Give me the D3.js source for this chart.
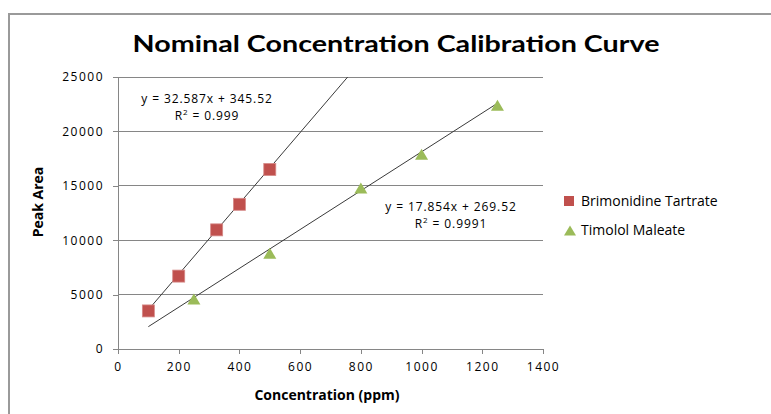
<!DOCTYPE html>
<html lang="en">
<head>
    <meta charset="utf-8">
    <title>Nominal Concentration Calibration Curve</title>
    <style>
        body {
            margin: 0;
            background: white;
        }

        svg {
            display: block;
        }

        .axis path,
        .axis line {
            fill: none;
            stroke: #868686;
            shape-rendering: crispEdges;
        }

        .axis text {
            font-family: "Open Sans", sans-serif;
            font-size: 12px;
            letter-spacing: 1.5px;
            fill: #000;
        }
    </style>
</head>
<body>
    <script src="https://d3js.org/d3.v7.min.js"></script>
    <div id="chart"></div>
    <script type="text/javascript">
        // data
        var brimConc = [100, 200, 325, 400, 500];
        var brimArea = [3500, 6700, 10950, 13300, 16500];
        var timoConc = [250, 500, 800, 1000, 1250];
        var timoArea = [4600, 8800, 14800, 17900, 22400];

        // trendlines as printed on the chart
        var brimFit = { slope: 32.587, icept: 345.52, from: 100, to: 1250 };
        var timoFit = { slope: 17.854, icept: 269.52, from: 100, to: 1250 };

        var xTicks = [0, 200, 400, 600, 800, 1000, 1200, 1400];
        var yTicks = [0, 5000, 10000, 15000, 20000, 25000];

        var width = 771;
        var height = 414;
        var plotLeft = 118, plotRight = 543, plotTop = 77, plotBottom = 349;

        var svg = d3.select("#chart").append("svg")
            .attr("width", width)
            .attr("height", height);

        // outer chart border (runs off the right / bottom of the picture)
        svg.append("rect")
            .attr("x", 9)
            .attr("y", 14)
            .attr("width", 800)
            .attr("height", 440)
            .attr("fill", "white")
            .attr("stroke", "#9a9a9a")
            .attr("stroke-width", 2);

        var xScale = d3.scaleLinear().domain([0, 1400]).range([plotLeft, plotRight]);
        var yScale = d3.scaleLinear().domain([0, 25000]).range([plotBottom, plotTop]);

        // gridlines
        svg.append("g")
            .selectAll("line")
            .data(yTicks.slice(1))
            .enter()
            .append("line")
            .attr("x1", plotLeft)
            .attr("x2", plotRight)
            .attr("y1", function(d) { return yScale(d); })
            .attr("y2", function(d) { return yScale(d); })
            .attr("stroke", "#868686")
            .attr("shape-rendering", "crispEdges");

        var xAxis = d3.axisBottom(xScale).tickValues(xTicks).tickFormat(d3.format("d"))
            .tickSize(5).tickSizeOuter(0).tickPadding(8);
        var yAxis = d3.axisLeft(yScale).tickValues(yTicks).tickFormat(d3.format("d"))
            .tickSize(5).tickSizeOuter(0).tickPadding(9);

        svg.append("g")
            .attr("class", "axis")
            .attr("transform", "translate(0," + plotBottom + ")")
            .call(xAxis);

        svg.append("g")
            .attr("class", "axis")
            .attr("transform", "translate(" + plotLeft + ",0)")
            .call(yAxis);

        // trendlines, clipped to plot
        svg.append("clipPath").attr("id", "plotClip")
            .append("rect")
            .attr("x", plotLeft).attr("y", plotTop)
            .attr("width", plotRight - plotLeft).attr("height", plotBottom - plotTop);

        function draw_fit(fit) {
            svg.append("line")
                .attr("clip-path", "url(#plotClip)")
                .attr("x1", xScale(fit.from))
                .attr("y1", yScale(fit.slope * fit.from + fit.icept))
                .attr("x2", xScale(fit.to))
                .attr("y2", yScale(fit.slope * fit.to + fit.icept))
                .attr("stroke", "#3a3a3a")
                .attr("stroke-width", 1);
        }
        draw_fit(brimFit);
        draw_fit(timoFit);

        // markers
        var sq = 12;
        svg.append("g")
            .selectAll("rect")
            .data(d3.range(brimConc.length))
            .enter()
            .append("rect")
            .attr("x", function(i) { return xScale(brimConc[i]) - sq / 2; })
            .attr("y", function(i) { return yScale(brimArea[i]) - sq / 2; })
            .attr("width", sq)
            .attr("height", sq)
            .attr("fill", "#c0504d")
            .attr("stroke", "#d68a88")
            .attr("stroke-width", 0.8);

        function triPath(cx, cy, w, h) {
            return "M" + (cx - w / 2) + "," + (cy + h / 2) +
                "L" + (cx + w / 2) + "," + (cy + h / 2) +
                "L" + cx + "," + (cy - h / 2) + "Z";
        }

        svg.append("g")
            .selectAll("path")
            .data(d3.range(timoConc.length))
            .enter()
            .append("path")
            .attr("d", function(i) { return triPath(xScale(timoConc[i]), yScale(timoArea[i]), 13, 11); })
            .attr("fill", "#9bbb59");

        // equation labels
        function draw_eq(x, y, eq, r2) {
            var t = svg.append("text")
                .attr("text-anchor", "middle")
                .attr("font-family", "'Open Sans', sans-serif")
                .attr("font-size", "12px")
                .attr("letter-spacing", "0.9px")
                .attr("fill", "#000");
            t.append("tspan").attr("x", x).attr("y", y).text(eq);
            var r = t.append("tspan").attr("x", x).attr("y", y + 17);
            r.append("tspan").text("R");
            r.append("tspan").attr("font-size", "8px").attr("dy", -5).text("2");
            r.append("tspan").attr("dy", 5).text(" = " + r2);
        }
        draw_eq(207, 103, "y = 32.587x + 345.52", "0.999");
        draw_eq(451, 211, "y = 17.854x + 269.52", "0.9991");

        // title
        svg.append("text")
            .attr("x", 396)
            .attr("y", 52)
            .attr("text-anchor", "middle")
            .attr("font-family", "Lato, sans-serif")
            .attr("font-weight", "bold")
            .attr("font-size", "23px")
            .attr("textLength", 527)
            .attr("lengthAdjust", "spacingAndGlyphs")
            .text("Nominal Concentration Calibration Curve");

        // axis titles
        svg.append("text")
            .attr("x", 327)
            .attr("y", 400)
            .attr("text-anchor", "middle")
            .attr("font-family", "'Open Sans', sans-serif")
            .attr("font-weight", "bold")
            .attr("font-size", "14px")
            .text("Concentration (ppm)");

        svg.append("text")
            .attr("transform", "translate(43,202) rotate(-90)")
            .attr("text-anchor", "middle")
            .attr("font-family", "'Open Sans', sans-serif")
            .attr("font-weight", "bold")
            .attr("font-size", "14px")
            .text("Peak Area");

        // legend
        var legend = svg.append("g").attr("transform", "translate(564,0)");
        legend.append("rect")
            .attr("x", 0).attr("y", 196)
            .attr("width", 10).attr("height", 10)
            .attr("fill", "#c0504d");
        legend.append("text")
            .attr("x", 17).attr("y", 206)
            .attr("font-family", "'Open Sans', sans-serif")
            .attr("font-size", "14px")
            .text("Brimonidine Tartrate");
        legend.append("path")
            .attr("d", triPath(6, 230.5, 12, 10))
            .attr("fill", "#9bbb59");
        legend.append("text")
            .attr("x", 17).attr("y", 235)
            .attr("font-family", "'Open Sans', sans-serif")
            .attr("font-size", "14px")
            .text("Timolol Maleate");
    </script>
</body>
</html>
